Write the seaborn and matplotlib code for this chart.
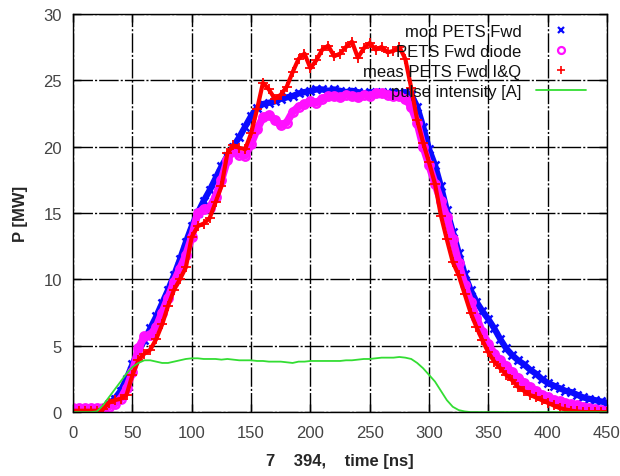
import matplotlib
matplotlib.use("Agg")
import matplotlib.pyplot as plt
from matplotlib.lines import Line2D
import seaborn as sns
import pandas as pd

# time axis in ns (5 ns steps)
time_ns = list(range(0, 455, 5))

mod_fwd = [0.2, 0.2, 0.2, 0.2, 0.2, 0.3, 0.6, 1.0, 1.6, 2.5,
           3.6, 4.6, 5.4, 6.3, 7.2, 8.2, 9.2, 10.3, 11.5, 12.8,
           14.0, 15.0, 15.9, 16.7, 17.6, 18.5, 19.3, 20.0, 20.7, 21.5,
           22.3, 22.9, 23.2, 23.3, 23.4, 23.6, 23.7, 23.8, 24.0, 24.1,
           24.2, 24.3, 24.3, 24.2, 24.3, 24.2, 24.1, 24.2, 24.1, 24.0,
           24.1, 24.0, 24.1, 24.0, 24.1, 24.0, 24.1, 23.9, 23.0, 21.5,
           19.8, 18.6, 17.0, 15.2, 13.6, 12.0, 10.4, 9.2, 8.3, 7.6,
           7.0, 6.3, 5.5, 4.8, 4.3, 3.9, 3.6, 3.2, 2.9, 2.5,
           2.2, 2.0, 1.8, 1.6, 1.5, 1.3, 1.1, 1.0, 0.9, 0.8, 0.7]

diode_fwd = [0.3, 0.3, 0.3, 0.3, 0.3, 0.3, 0.4, 0.6, 1.0, 1.8,
             3.0, 4.8, 5.7, 5.8, 6.4, 7.5, 8.6, 9.8, 10.8, 11.8,
             13.2, 15.0, 15.3, 15.4, 16.2, 17.5, 19.0, 19.7, 19.4, 19.3,
             20.2, 21.3, 22.2, 22.4, 22.0, 21.6, 21.8, 22.6, 23.0, 23.2,
             23.4, 23.3, 23.6, 23.8, 23.8, 23.7, 23.9, 23.8, 23.7, 23.9,
             23.8, 24.0, 24.0, 23.9, 23.8, 23.8, 23.6, 23.0, 21.8, 20.0,
             18.6, 17.2, 15.9, 14.7, 13.0, 11.2, 9.6, 8.3, 7.1, 6.0,
             5.1, 4.4, 3.9, 3.5, 3.0, 2.6, 2.2, 1.9, 1.6, 1.3,
             1.1, 0.9, 0.8, 0.7, 0.6, 0.5, 0.4, 0.3, 0.2, 0.15, 0.1]

iq_fwd = [0.1, 0.1, 0.1, 0.1, 0.1, 0.2, 0.7, 0.9, 1.0, 1.3,
          2.8, 3.9, 4.4, 4.7, 5.5, 6.6, 8.0, 9.2, 10.0, 10.9,
          13.2, 14.0, 14.2, 14.6, 15.8, 17.0, 19.5, 20.1, 19.9, 19.8,
          21.0, 22.8, 24.8, 24.3, 23.6, 23.9, 24.5, 25.6, 26.6, 27.0,
          25.9, 26.5, 27.3, 27.6, 26.8, 27.0, 27.5, 27.9, 26.7, 27.4,
          27.8, 27.3, 27.5, 27.1, 27.2, 27.5, 26.6, 24.4, 22.0, 20.3,
          18.8, 17.2, 14.8, 13.0, 11.3, 10.3, 8.9, 7.5, 6.4, 5.4,
          4.5, 3.8, 3.3, 2.8, 2.4, 1.9, 1.6, 1.3, 1.1, 0.9,
          0.7, 0.5, 0.3, 0.2, 0.1, 0.05, 0.0, 0.0, 0.0, 0.0, 0.0]

pulse_int = [0.0, 0.0, 0.0, 0.0, 0.05, 0.5, 1.1, 1.7, 2.3, 2.9,
             3.4, 3.7, 3.9, 3.9, 3.8, 3.7, 3.7, 3.8, 3.9, 4.0,
             4.05, 4.05, 4.0, 4.0, 4.0, 3.95, 4.0, 3.95, 3.9, 3.9,
             3.9, 3.85, 3.85, 3.8, 3.8, 3.8, 3.75, 3.7, 3.8, 3.8,
             3.85, 3.85, 3.85, 3.85, 3.85, 3.85, 3.9, 3.9, 3.95, 4.0,
             4.0, 4.05, 4.1, 4.1, 4.1, 4.15, 4.1, 4.0, 3.7, 3.3,
             2.8, 2.3, 1.6, 0.9, 0.4, 0.15, 0.05, 0.0, 0.0, 0.0,
             0.0, 0.0, 0.0, 0.0, 0.0, 0.0, 0.0, 0.0, 0.0, 0.0,
             0.0, 0.0, 0.0, 0.0, 0.0, 0.0, 0.0, 0.0, 0.0, 0.0, 0.0]

labels = ["mod PETS Fwd", "PETS Fwd diode", "meas PETS Fwd I&Q", "pulse intensity [A]"]
x_ticks = list(range(0, 451, 50))
y_ticks = list(range(0, 31, 5))

df = pd.DataFrame({"t": time_ns, "mod": mod_fwd, "diode": diode_fwd,
                   "iq": iq_fwd, "pulse": pulse_int})

sns.set_style("ticks")
plt.rcParams['font.family'] = ['Liberation Sans', 'DejaVu Sans']

fig = plt.figure(figsize=(6.2, 4.77), dpi=100)
ax = fig.add_axes([0.118, 0.134, 0.861, 0.835])

blue = "#0a0aff"
mag = "#ff10ff"
red = "#ff0000"
green = "#33dd33"

sns.lineplot(data=df, x="t", y="mod", ax=ax, color=blue, linewidth=4.5,
             marker="x", markersize=5.5, markeredgewidth=1.8, markeredgecolor=blue)
sns.lineplot(data=df, x="t", y="diode", ax=ax, color=mag, linewidth=5.5,
             marker="o", markersize=6, markerfacecolor="none",
             markeredgewidth=1.8, markeredgecolor=mag)
sns.lineplot(data=df, x="t", y="iq", ax=ax, color=red, linewidth=3.0,
             marker="+", markersize=7, markeredgewidth=1.3, markeredgecolor=red)
sns.lineplot(data=df, x="t", y="pulse", ax=ax, color=green, linewidth=1.3)

ax.set_xlim(0, 450)
ax.set_ylim(0, 30)
ax.set_xticks(x_ticks)
ax.set_yticks(y_ticks)
ax.set_axisbelow(True)
ax.grid(True, color="black", linewidth=1.0, linestyle=(0, (14, 1.5, 1.5, 1.5)))
ax.tick_params(direction="in", length=6, width=1, top=True, right=True,
               labelsize=12, colors="black", pad=8)
ax.tick_params(axis="x", pad=9)
for tl in ax.get_xticklabels() + ax.get_yticklabels():
    tl.set_color("#444444")
for s in ax.spines.values():
    s.set_color("black")
    s.set_linewidth(1.0)

ax.set_xlabel("7    394,    time [ns]", fontsize=12, fontweight="bold", labelpad=10)
ax.set_ylabel("P [MW]", fontsize=12, fontweight="bold", labelpad=11)

handles = [
    Line2D([], [], linestyle="none", marker="x", color=blue, markersize=5, markeredgewidth=1.6),
    Line2D([], [], linestyle="none", marker="o", color=mag, markersize=5, markerfacecolor="none", markeredgewidth=1.6),
    Line2D([], [], linestyle="none", marker="+", color=red, markersize=6, markeredgewidth=1.2),
    Line2D([], [], color=green, linewidth=1.3),
]
leg = ax.legend(handles, labels, loc="upper right", frameon=False, markerfirst=False,
                fontsize=12, handlelength=3.0, labelspacing=0.3, handletextpad=0.9,
                bbox_to_anchor=(0.98, 1.0), borderaxespad=0.2)
for col in leg._legend_handle_box.get_children():
    col.align = "right"
for txt in leg.get_texts():
    txt.set_color("#111111")

fig.savefig("out.png", dpi=100)
